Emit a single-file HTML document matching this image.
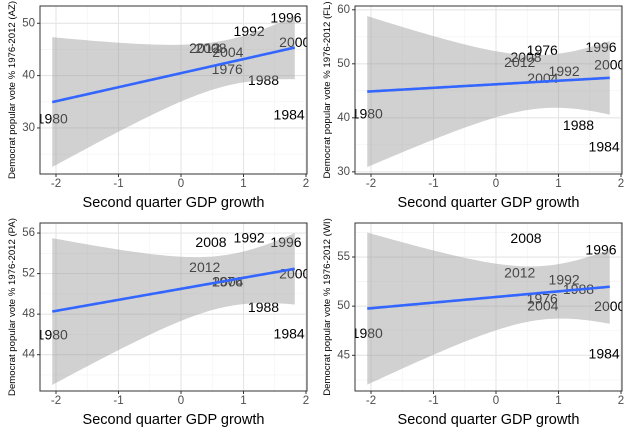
<!DOCTYPE html>
<html><head><meta charset="utf-8">
<style>
html,body{margin:0;padding:0;background:#fff;width:630px;height:434px;overflow:hidden}
svg{display:block;font-family:"Liberation Sans",sans-serif}
</style></head>
<body>
<svg id="chart" width="630" height="434" viewBox="0 0 630 434" xmlns="http://www.w3.org/2000/svg"></svg>
<script>
const years = ["1976","1980","1984","1988","1992","1996","2000","2004","2008","2012"];
const gdpGrowth = [0.74,-2.06,1.73,1.32,1.09,1.68,1.82,0.75,0.48,0.38];
const azVotes = [41.3,31.8,32.6,39.2,48.5,51.1,46.4,44.5,45.3,45.3];
const flVotes = [52.6,40.8,34.65,38.65,48.7,53.1,49.85,47.4,51.25,50.3];
const paVotes = [51.2,46.0,46.1,48.7,55.55,55.1,52.0,51.2,55.1,52.65];
const wiVotes = [50.8,47.25,45.2,51.76,52.7,55.78,50.0,50.07,56.93,53.4];
const states = ["AZ","FL","PA","WI"];
const xTicks = [-2,-1,0,1,2];
const azTicks = [30,40,50];
const flTicks = [30,40,50,60];
const paTicks = [44,48,52,56];
const wiTicks = [45,50,55];

const NS="http://www.w3.org/2000/svg";
const svg=document.getElementById('chart');
function mk(tag,attrs,parent){const e=document.createElementNS(NS,tag);for(const k in attrs)e.setAttribute(k,attrs[k]);(parent||svg).appendChild(e);return e;}

const panels=[
 {st:"AZ",votes:azVotes,ticks:azTicks,ymin:21.2,ymax:53.3,ox:0,oy:0},
 {st:"FL",votes:flVotes,ticks:flTicks,ymin:29.6,ymax:60.7,ox:315,oy:0},
 {st:"PA",votes:paVotes,ticks:paTicks,ymin:40.42,ymax:56.99,ox:0,oy:217},
 {st:"WI",votes:wiVotes,ticks:wiTicks,ymin:41.37,ymax:58.46,ox:315,oy:217}
];
const L=40,R=307,T=6,B=174,XMIN=-2.256,XMAX=2.016;

panels.forEach((p,pi)=>{
 const g=mk('g',{transform:`translate(${p.ox},${p.oy})`});
 
 
 const xs=v=>L+(v-XMIN)/(XMAX-XMIN)*(R-L);
 const ys=v=>B-(v-p.ymin)/(p.ymax-p.ymin)*(B-T);
 mk('rect',{x:L,y:T,width:R-L,height:B-T,fill:'#fff'},g);
 const clipId='clip'+pi;
 const cp=mk('clipPath',{id:clipId},g);mk('rect',{x:L,y:T,width:R-L,height:B-T},cp);
 const step=p.ticks[1]-p.ticks[0];
 for(let v=p.ticks[0]-step/2;v<=p.ymax;v+=step){if(v>p.ymin){const l=mk('line',{x1:L,x2:R,y1:ys(v),y2:ys(v),stroke:'#f2f2f2','stroke-width':0.6},g);}}
 for(let v=-2.5;v<=2;v+=1){if(v>XMIN){const l=mk('line',{y1:T,y2:B,x1:xs(v),x2:xs(v),stroke:'#f2f2f2','stroke-width':0.6},g);}}
 p.ticks.forEach(v=>{const l=mk('line',{x1:L,x2:R,y1:ys(v),y2:ys(v),stroke:'#e5e5e5','stroke-width':1.1},g);});
 xTicks.forEach(v=>{const l=mk('line',{y1:T,y2:B,x1:xs(v),x2:xs(v),stroke:'#e5e5e5','stroke-width':1.1},g);});
 const cg=mk('g',{'clip-path':`url(#${clipId})`},g);
 years.forEach((yr,i)=>{
  const t=mk('text',{x:xs(gdpGrowth[i]),y:ys(p.votes[i]),'text-anchor':'middle','dominant-baseline':'central','font-size':14,fill:'#000'},cg);
  t.textContent=yr;
  
  
 });
 const n=gdpGrowth.length;
 const mx=gdpGrowth.reduce((a,b)=>a+b,0)/n, my=p.votes.reduce((a,b)=>a+b,0)/n;
 let sxx=0,sxy=0;for(let i=0;i<n;i++){sxx+=(gdpGrowth[i]-mx)**2;sxy+=(gdpGrowth[i]-mx)*(p.votes[i]-my);}
 const b=sxy/sxx,a=my-b*mx;
 let sse=0;for(let i=0;i<n;i++)sse+=(p.votes[i]-a-b*gdpGrowth[i])**2;
 const s=Math.sqrt(sse/(n-2)),tq=2.306;
 const x0=Math.min(...gdpGrowth),x1=Math.max(...gdpGrowth);
 const up=[],lo=[],mid=[];
 for(let k=0;k<80;k++){const x=x0+(x1-x0)*k/79;const f=a+b*x;const se=s*Math.sqrt(1/n+(x-mx)**2/sxx);
  up.push([xs(x),ys(f+tq*se)]);lo.push([xs(x),ys(f-tq*se)]);mid.push([xs(x),ys(f)]);}
 const rib=mk('path',{d:'M'+up.map(q=>q.join(',')).join('L')+'L'+lo.reverse().map(q=>q.join(',')).join('L')+'Z',fill:'#999',opacity:0.45},cg);
 
 const ln=mk('path',{d:'M'+mid.map(q=>q.join(',')).join('L'),fill:'none',stroke:'#3366FF','stroke-width':2.6},cg);
 
 const bd=mk('rect',{x:L,y:T,width:R-L,height:B-T,fill:'none',stroke:'#333','stroke-width':1},g);
 
 p.ticks.forEach(v=>{
  mk('line',{x1:L-3,x2:L,y1:ys(v),y2:ys(v),stroke:'#333'},g);
  const t=mk('text',{x:L-5,y:ys(v),'text-anchor':'end','dominant-baseline':'central','font-size':11.5,fill:'#4d4d4d'},g);
  t.textContent=v;
 });
 xTicks.forEach(v=>{
  mk('line',{x1:xs(v),x2:xs(v),y1:B,y2:B+3,stroke:'#333'},g);
  const t=mk('text',{x:xs(v),y:B+13,'text-anchor':'middle','font-size':11.5,fill:'#4d4d4d'},g);
  t.textContent=v;
 });
 const xt=mk('text',{x:(L+R)/2,y:207,'text-anchor':'middle','font-size':14.5,fill:'#000'},g);
 xt.textContent='Second quarter GDP growth';
 
 const yt=mk('text',{x:0,y:0,'text-anchor':'middle','font-size':9.6,fill:'#000',transform:`translate(15,${(T+B)/2}) rotate(-90)`},g);
 yt.textContent='Democrat popular vote % 1976-2012 ('+p.st+')';
 
});
</script>
</body></html>
